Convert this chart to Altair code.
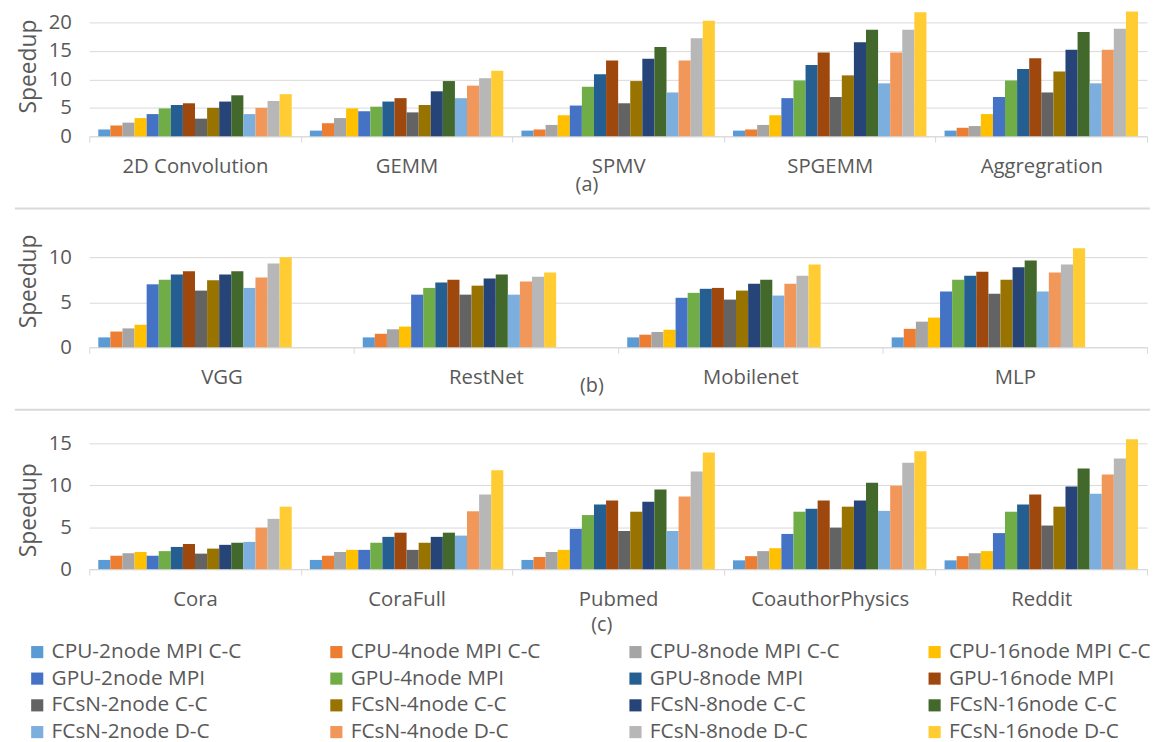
import altair as alt
import pandas as pd

series = ["CPU-2node MPI C-C", "CPU-4node MPI C-C", "CPU-8node MPI C-C", "CPU-16node MPI C-C",
          "GPU-2node MPI", "GPU-4node MPI", "GPU-8node MPI", "GPU-16node MPI",
          "FCsN-2node C-C", "FCsN-4node C-C", "FCsN-8node C-C", "FCsN-16node C-C",
          "FCsN-2node D-C", "FCsN-4node D-C", "FCsN-8node D-C", "FCsN-16node D-C"]
colors = ["#5B9BD5", "#ED7D31", "#A5A5A5", "#FFC000", "#4472C4", "#70AD47", "#255E91", "#9E480E",
          "#636363", "#997300", "#264478", "#43682B", "#7CAFDD", "#F1975A", "#B7B7B7", "#FFCD33"]

# panel (a)
cats_a = ["2D Convolution", "GEMM", "SPMV", "SPGEMM", "Aggregration"]
conv2d = [1.2, 1.9, 2.4, 3.2, 3.9, 4.9, 5.5, 5.8, 3.1, 5.0, 6.1, 7.2, 3.9, 5.0, 6.2, 7.4]
gemm = [1.0, 2.3, 3.2, 4.9, 4.4, 5.2, 6.1, 6.7, 4.2, 5.5, 7.9, 9.7, 6.7, 8.9, 10.2, 11.5]
spmv = [1.0, 1.2, 2.0, 3.7, 5.4, 8.7, 10.9, 13.3, 5.8, 9.7, 13.6, 15.7, 7.7, 13.3, 17.2, 20.3]
spgemm = [1.0, 1.2, 2.0, 3.7, 6.7, 9.8, 12.5, 14.7, 6.9, 10.7, 16.5, 18.7, 9.3, 14.7, 18.7, 21.8]
aggregation = [1.0, 1.5, 1.8, 3.9, 6.9, 9.8, 11.8, 13.7, 7.7, 11.4, 15.2, 18.3, 9.3, 15.2, 18.9, 21.9]

# panel (b)
cats_b = ["VGG", "RestNet", "Mobilenet", "MLP"]
vgg = [1.1, 1.75, 2.1, 2.5, 7.0, 7.5, 8.1, 8.45, 6.3, 7.45, 8.1, 8.45, 6.6, 7.75, 9.3, 10.0]
restnet = [1.1, 1.5, 2.0, 2.3, 5.85, 6.6, 7.2, 7.5, 5.85, 6.85, 7.65, 8.1, 5.85, 7.3, 7.85, 8.3]
mobilenet = [1.1, 1.4, 1.7, 1.95, 5.5, 6.05, 6.5, 6.6, 5.3, 6.3, 7.05, 7.5, 5.75, 7.05, 7.95, 9.2]
mlp = [1.1, 2.05, 2.85, 3.3, 6.2, 7.5, 7.95, 8.4, 5.95, 7.5, 8.9, 9.65, 6.2, 8.3, 9.2, 11.0]

# panel (c)
cats_c = ["Cora", "CoraFull", "Pubmed", "CoauthorPhysics", "Reddit"]
cora = [1.1, 1.6, 1.9, 2.05, 1.6, 2.15, 2.65, 3.0, 1.85, 2.45, 2.9, 3.15, 3.25, 4.95, 6.0, 7.45]
corafull = [1.1, 1.6, 2.05, 2.3, 2.3, 3.15, 3.85, 4.35, 2.3, 3.15, 3.85, 4.35, 4.0, 6.9, 8.9, 11.8]
pubmed = [1.1, 1.45, 2.05, 2.3, 4.8, 6.45, 7.7, 8.2, 4.55, 6.85, 8.05, 9.5, 4.55, 8.65, 11.65, 13.9]
coauthor = [1.05, 1.55, 2.15, 2.5, 4.2, 6.85, 7.2, 8.2, 4.95, 7.45, 8.2, 10.3, 6.95, 9.95, 12.7, 14.05]
reddit = [1.05, 1.55, 1.9, 2.15, 4.3, 6.85, 7.7, 8.9, 5.2, 7.45, 9.85, 12.0, 9.0, 11.3, 13.2, 15.5]

TEXT = "#595959"
GRID = "#D9D9D9"
W = 1068


def panel(cats, rows, ymax, height, yvals, sub, sub_x, sub_y, ytitle_y, sep_y=None):
    recs = []
    for c, vals in zip(cats, rows):
        for s, v in zip(series, vals):
            recs.append({"cat": c, "series": s, "value": v})
    df = pd.DataFrame(recs)
    bars = alt.Chart(df).mark_bar(clip=False).encode(
        x=alt.X("cat:N", sort=cats,
                scale=alt.Scale(paddingInner=0, paddingOuter=0),
                axis=alt.Axis(title=sub, labelAngle=0, tickBand="extent", tickSize=6,
                              tickColor=GRID, domainColor=GRID, labelPadding=15,
                              titleX=sub_x, titleY=sub_y, titleBaseline="middle",
                              titleAlign="center", titleFontSize=20)),
        xOffset=alt.XOffset("series:N", sort=series,
                            scale=alt.Scale(domain=series, paddingInner=0, paddingOuter=0.75)),
        y=alt.Y("value:Q", scale=alt.Scale(domain=[0, ymax], nice=False),
                axis=alt.Axis(values=yvals, title="Speedup", titleY=ytitle_y)),
        color=alt.Color("series:N", sort=series,
                        scale=alt.Scale(domain=series, range=colors),
                        legend=alt.Legend(title=None, orient="none", legendX=-63, legendY=625,
                                          direction="horizontal",
                                          columns=4, symbolType="square", symbolSize=150,
                                          symbolStrokeWidth=0, labelFontSize=21,
                                          labelColor=TEXT, rowPadding=5, columnPadding=85,
                                          labelOffset=4, labelLimit=400, padding=0)),
    ).properties(width=W, height=height)
    layers = [bars]
    if sep_y is not None:
        sep = alt.Chart(pd.DataFrame({"k": [0]})).mark_rule(color=GRID, strokeWidth=2).encode(
            x=alt.value(-75), x2=alt.value(W + 3), y=alt.value(sep_y))
        layers.append(sep)
    return alt.layer(*layers)


pa = panel(cats_a, [conv2d, gemm, spmv, spgemm, aggregation], 20, 115, [0, 5, 10, 15, 20],
           "(a)", 502, 49, 44)
pb = panel(cats_b, [vgg, restnet, mobilenet, mlp], 12, 109, [0, 5, 10],
           "(b)", 507, 39, 42, sep_y=-31)
pc = panel(cats_c, [cora, corafull, pubmed, coauthor, reddit], 15, 127, [0, 5, 10, 15],
           "(c)", 517, 56, 67, sep_y=-34)

chart = alt.vconcat(pa, pb, pc, spacing=11).properties(
    padding={"left": 5, "top": -1, "right": 3, "bottom": 0}
).configure(font="Open Sans").configure_view(stroke="transparent").configure_axis(
    labelFontSize=20.5, labelColor=TEXT, titleColor=TEXT, titleFontWeight="normal",
    gridColor=GRID, gridWidth=1
).configure_axisY(
    domain=False, ticks=False, labelPadding=18, titleFontSize=23, titlePadding=8, grid=True
).configure_axisX(grid=False)

chart.save("out.html", embed_options={"renderer": "svg", "actions": False})
